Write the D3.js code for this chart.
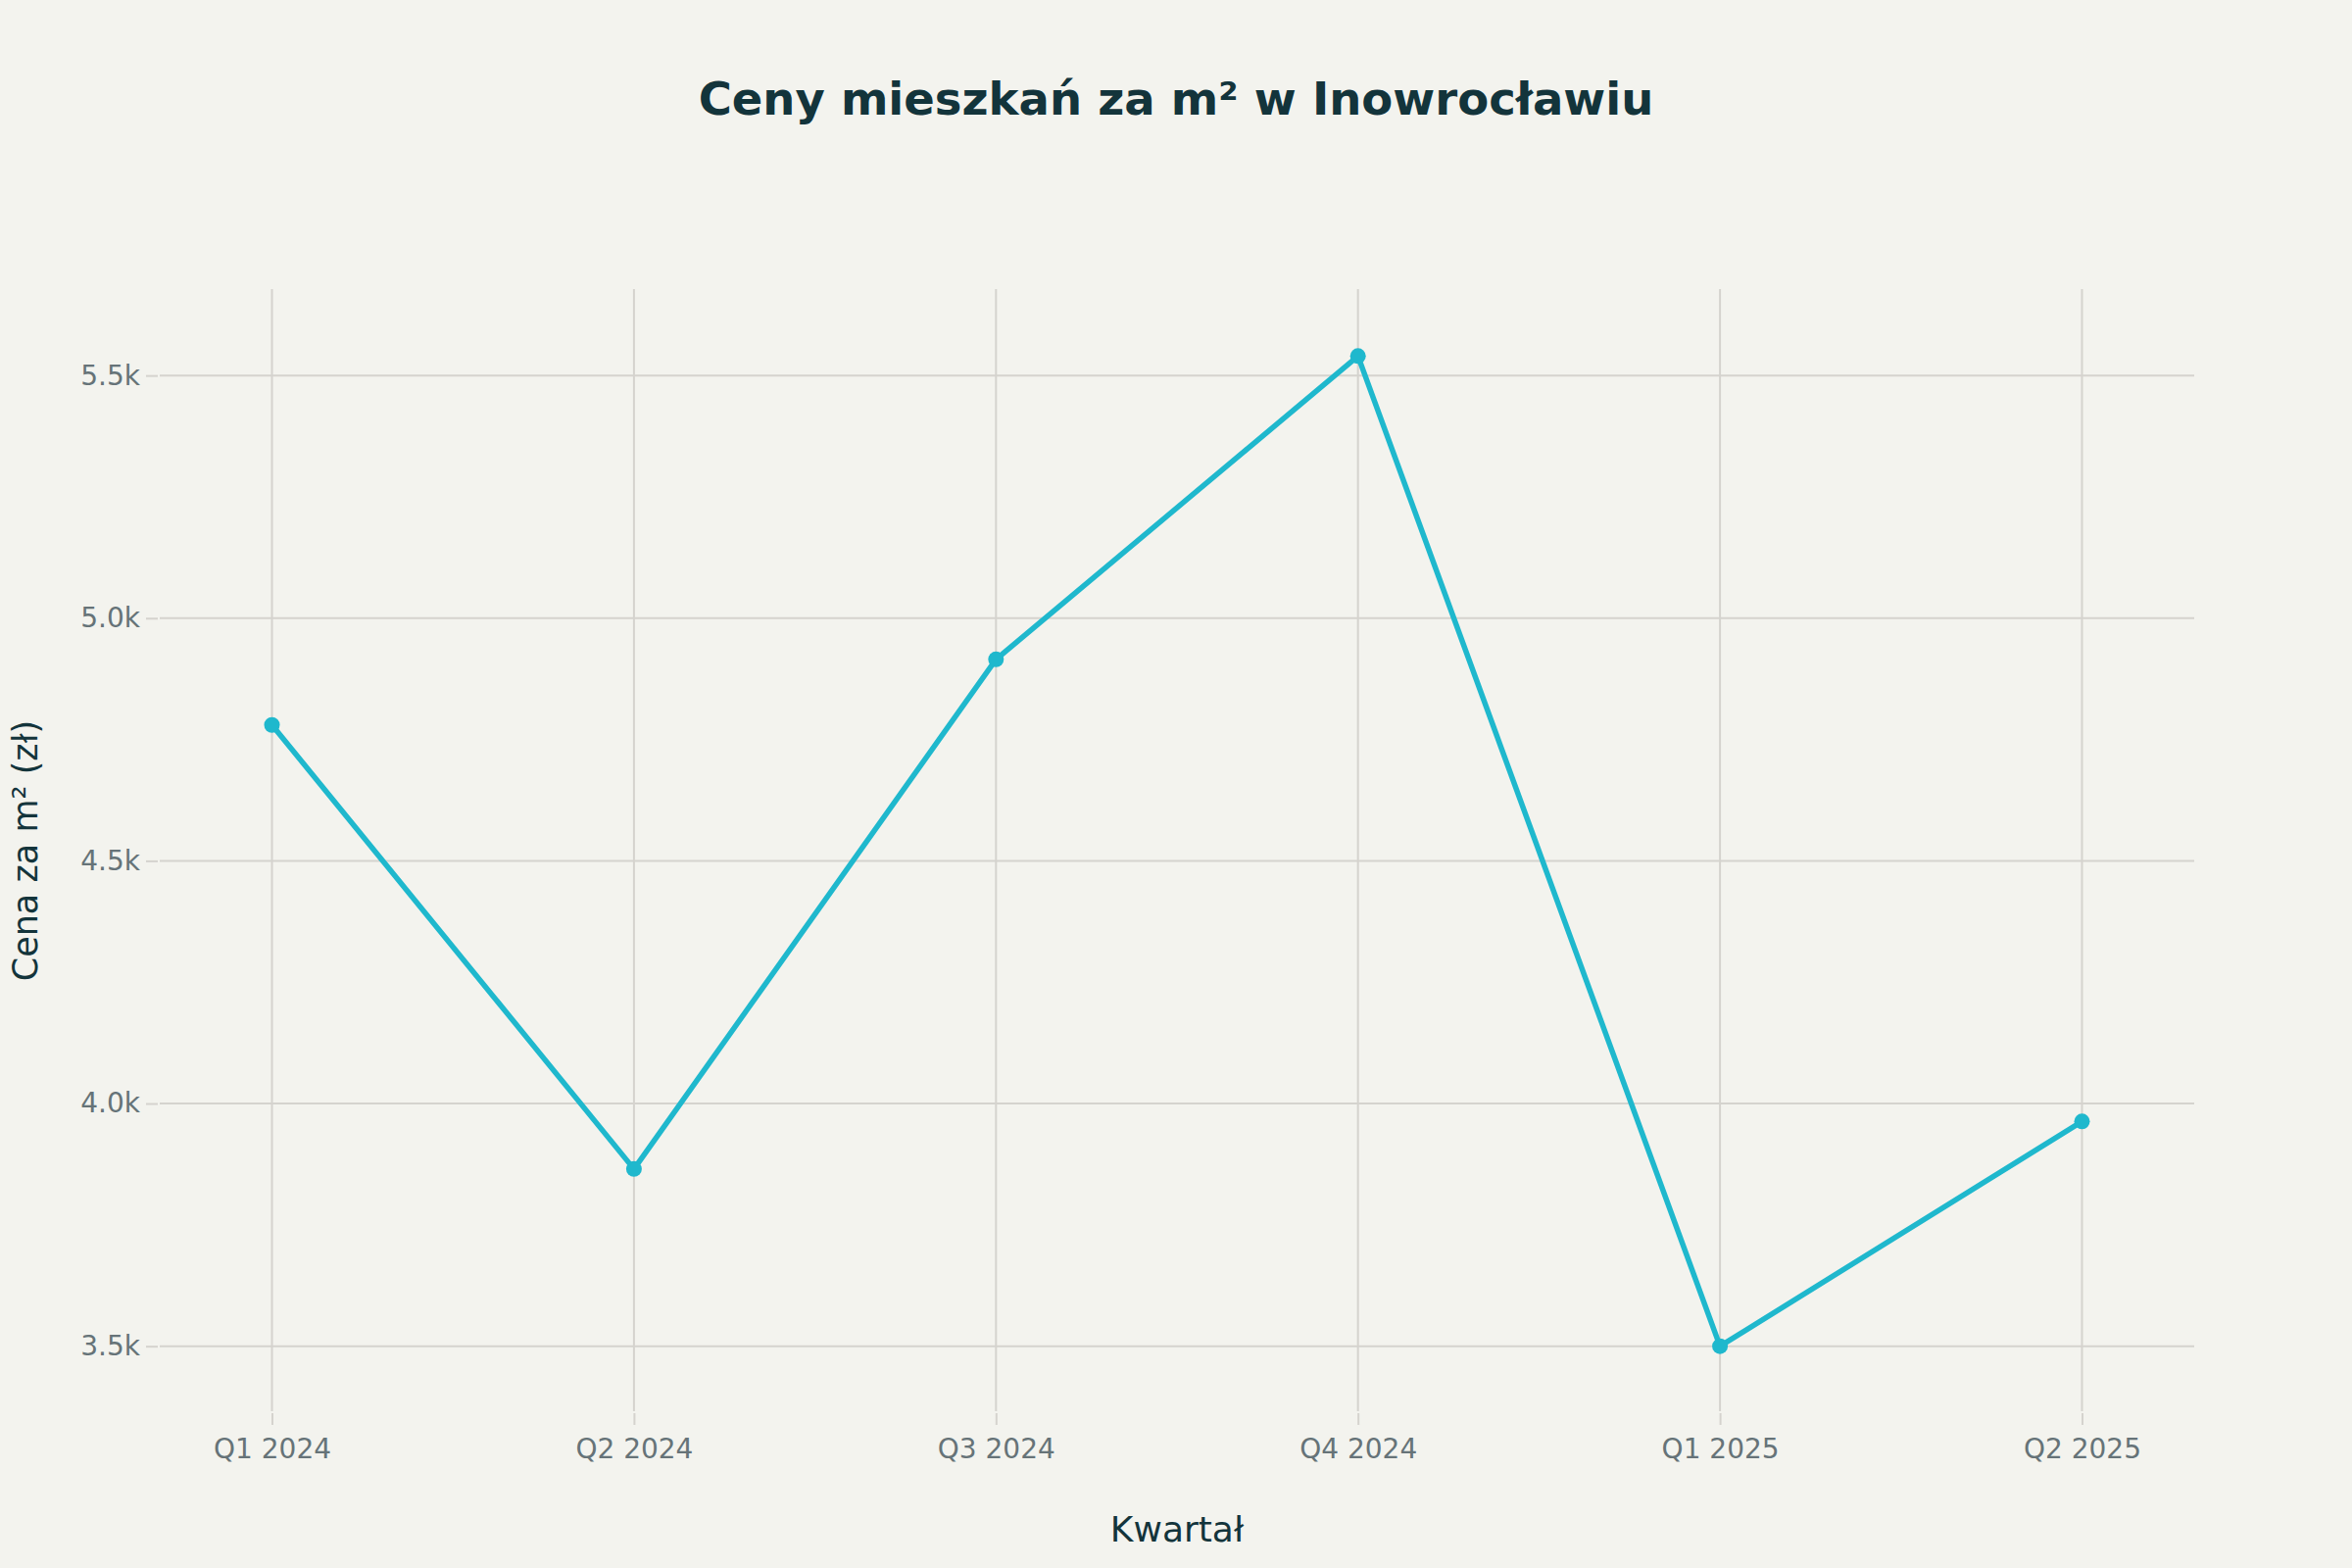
<!DOCTYPE html>
<meta charset="utf-8">
<head>
<script src="https://cdn.jsdelivr.net/npm/d3@7"></script>
<style>
  body { margin: 0; background: #f3f3ee; }
  svg { display: block; }
</style>
</head>
<body>
<svg id="chart"></svg>
<script>
var quarters = ["Q1 2024", "Q2 2024", "Q3 2024", "Q4 2024", "Q1 2025", "Q2 2025"];
var prices = [4780, 3865, 4915, 5540, 3500, 3963];
var yTicks = [3500, 4000, 4500, 5000, 5500];

var width = 2400;
var height = 1600;
var margin = {top: 295, right: 161, bottom: 160, left: 163};
var innerW = width - margin.left - margin.right;
var innerH = height - margin.top - margin.bottom;

var svg = d3.select("#chart").attr("width", width).attr("height", height);
svg.append("rect").attr("width", width).attr("height", height).attr("fill", "#f3f3ee");

var x = d3.scaleLinear().domain([-0.31, quarters.length - 1 + 0.31]).range([0, innerW]);
var y = d3.scaleLinear().domain([3366, 5678]).range([innerH, 0]);

var g = svg.append("g").attr("transform", "translate(" + margin.left + "," + margin.top + ")");

// grid
g.selectAll(".hgrid").data(yTicks).enter().append("line")
  .attr("x1", 0).attr("x2", innerW)
  .attr("y1", function(d) { return y(d); }).attr("y2", function(d) { return y(d); })
  .attr("stroke", "#d5d3ce").attr("stroke-width", 2);
g.selectAll(".vgrid").data(quarters).enter().append("line")
  .attr("y1", 0).attr("y2", innerH)
  .attr("x1", function(d, i) { return x(i); }).attr("x2", function(d, i) { return x(i); })
  .attr("stroke", "#d5d3ce").attr("stroke-width", 2);

// axes
var yAxis = d3.axisLeft(y).tickValues(yTicks).tickSize(12).tickPadding(6)
  .tickFormat(function(d) { return (d / 1000).toFixed(1) + "k"; });
var yg = g.append("g").attr("transform", "translate(-2,0)").call(yAxis);
yg.select(".domain").remove();
yg.selectAll(".tick line").attr("stroke", "#d5d3ce").attr("stroke-width", 2);
yg.selectAll(".tick text").attr("fill", "#667378").style("font-family", "DejaVu Sans")
  .style("font-size", "28px");

var xAxis = d3.axisBottom(x).tickValues(d3.range(quarters.length)).tickSize(12).tickPadding(14)
  .tickFormat(function(d) { return quarters[d]; });
var xg = g.append("g").attr("transform", "translate(0," + (innerH + 2) + ")").call(xAxis);
xg.select(".domain").remove();
xg.selectAll(".tick line").attr("stroke", "#d5d3ce").attr("stroke-width", 2);
xg.selectAll(".tick text").attr("fill", "#667378").style("font-family", "DejaVu Sans")
  .style("font-size", "28px");

// line
var line = d3.line().x(function(d, i) { return x(i); }).y(function(d) { return y(d); });
g.append("path").datum(prices).attr("d", line)
  .attr("fill", "none").attr("stroke", "#1fb8cd").attr("stroke-width", 5.5)
  .attr("stroke-linejoin", "round");
g.selectAll(".dot").data(prices).enter().append("circle")
  .attr("cx", function(d, i) { return x(i); }).attr("cy", function(d) { return y(d); })
  .attr("r", 8).attr("fill", "#1fb8cd");

// titles
svg.append("text").attr("x", width / 2).attr("y", 117).attr("text-anchor", "middle")
  .style("font-family", "DejaVu Sans").style("font-weight", "bold").style("font-size", "46.5px")
  .attr("fill", "#13343b").text("Ceny mieszkań za m² w Inowrocławiu");

svg.append("text").attr("x", margin.left + innerW / 2).attr("y", 1573).attr("text-anchor", "middle")
  .style("font-family", "DejaVu Sans").style("font-size", "36px")
  .attr("fill", "#13343b").text("Kwartał");

svg.append("text").attr("transform", "translate(38,868) rotate(-90)").attr("text-anchor", "middle")
  .style("font-family", "DejaVu Sans").style("font-size", "35px")
  .attr("fill", "#13343b").text("Cena za m² (zł)");
</script>
</body>
